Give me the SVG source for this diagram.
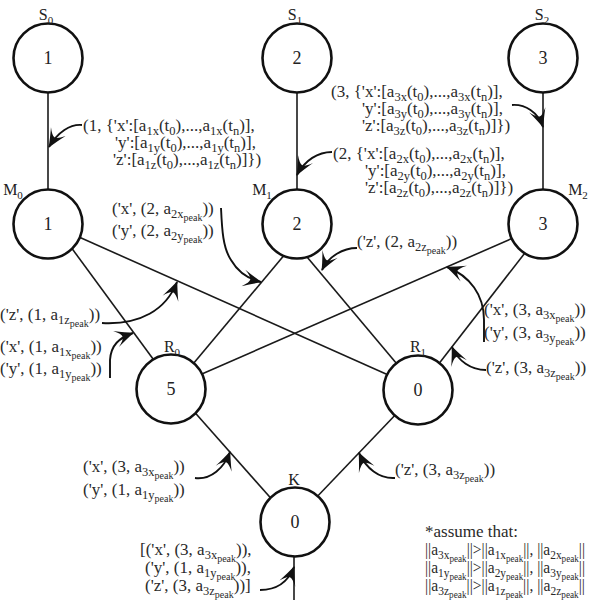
<svg xmlns="http://www.w3.org/2000/svg" width="594" height="600" viewBox="0 0 594 600">
<defs>
<style>
.t{font-family:"Liberation Serif","DejaVu Serif",serif;font-size:17px;fill:#2a2a2a}
.n{font-family:"Liberation Serif","DejaVu Serif",serif;font-size:18px;fill:#222;text-anchor:middle}
.lb{font-family:"Liberation Serif","DejaVu Serif",serif;font-size:16px;fill:#222;text-anchor:middle}
.s{font-size:12.5px;baseline-shift:-4px}
.ss{font-size:10px;baseline-shift:-2.5px}
.ls{font-size:11px;baseline-shift:-4px}
.node{fill:#fff;stroke:#111;stroke-width:2.6}
.edge{stroke:#1a1a1a;stroke-width:1.6;fill:none}
.arr{stroke:#111;stroke-width:1.9;fill:none;marker-end:url(#ah)}
</style>
<marker id="ah" viewBox="-19 -10 21 20" markerWidth="21" markerHeight="20" refX="0" refY="0" orient="auto" markerUnits="userSpaceOnUse">
<path d="M1,0 Q-7,-3 -18,-8.5 Q-11,-3 -11,0 Q-11,3 -18,8.5 Q-7,3 1,0 Z" fill="#111"/>
</marker>
</defs>
<rect width="594" height="600" fill="#fff"/>
<g id="connectors">
<line class="edge" x1="48" y1="58" x2="48" y2="224"/>
<line class="edge" x1="297" y1="58" x2="297" y2="224"/>
<line class="edge" x1="543" y1="58" x2="543" y2="224"/>
<line class="edge" x1="65" y1="239" x2="156" y2="363"/>
<line class="edge" x1="70" y1="233" x2="395" y2="378"/>
<line class="edge" x1="291" y1="247" x2="188" y2="370"/>
<line class="edge" x1="302" y1="251" x2="402" y2="370"/>
<line class="edge" x1="520" y1="235" x2="195" y2="377"/>
<line class="edge" x1="528" y1="249" x2="434" y2="370"/>
<line class="edge" x1="190" y1="407" x2="276" y2="504"/>
<line class="edge" x1="400" y1="410" x2="312" y2="502"/>
<line class="edge" x1="294" y1="540" x2="294" y2="600"/>
<path class="arr" d="M82,125 C70,124 58,132 49,147"/>
<path class="arr" d="M512,105 C525,104 538,112 543,127"/>
<path class="arr" d="M332,152 C318,152 305,160 297,175"/>
<path class="arr" d="M221,208 C222,230 223,248 231,260 C238,272 248,279 261,282"/>
<path class="arr" d="M357,248 C343,248 329,256 322,270"/>
<path class="arr" d="M102,323 C140,325 166,310 177,282"/>
<path class="arr" d="M110,378 L110,360 C111,345 119,338 133,333"/>
<path class="arr" d="M484,342 L484,320 C484,295 470,276 447,267"/>
<path class="arr" d="M486,370 C471,370 458,361 452,347"/>
<path class="arr" d="M195,478 C211,480 224,468 230,452"/>
<path class="arr" d="M395,478 C379,479 366,468 359,453"/>
<path class="arr" d="M260,590 C276,590 288,582 294,567"/>
</g>
<g id="S0"><circle class="node" cx="48" cy="58" r="34.5"/><text class="n" x="48" y="64">1</text><text class="lb" x="46" y="20">S<tspan class="ls">0</tspan></text></g>
<g id="S1"><circle class="node" cx="297" cy="58" r="34.5"/><text class="n" x="297" y="64">2</text><text class="lb" x="295" y="20">S<tspan class="ls">1</tspan></text></g>
<g id="S2"><circle class="node" cx="543" cy="58" r="34.5"/><text class="n" x="543" y="64">3</text><text class="lb" x="542" y="20">S<tspan class="ls">2</tspan></text></g>
<g id="M0"><circle class="node" cx="48" cy="224" r="34.5"/><text class="n" x="48" y="230">1</text><text class="lb" x="13" y="195">M<tspan class="ls">0</tspan></text></g>
<g id="M1"><circle class="node" cx="297" cy="224" r="34.5"/><text class="n" x="297" y="230">2</text><text class="lb" x="262" y="195">M<tspan class="ls">1</tspan></text></g>
<g id="M2"><circle class="node" cx="543" cy="224" r="34.5"/><text class="n" x="543" y="230">3</text><text class="lb" x="578" y="195">M<tspan class="ls">2</tspan></text></g>
<g id="R0"><circle class="node" cx="171" cy="389" r="34.5"/><text class="n" x="171" y="395">5</text><text class="lb" x="172" y="352">R<tspan class="ls">0</tspan></text></g>
<g id="R1"><circle class="node" cx="418" cy="390" r="34.5"/><text class="n" x="418" y="396">0</text><text class="lb" x="418" y="352">R<tspan class="ls">1</tspan></text></g>
<g id="K"><circle class="node" cx="295" cy="522" r="34.5"/><text class="n" x="295" y="528">0</text><text class="lb" x="294" y="485">K</text></g>
<g id="labels">
<text class="t" x="83" y="131">(1, {'x':[a<tspan class="s">1x</tspan>(t<tspan class="s">0</tspan>),...,a<tspan class="s">1x</tspan>(t<tspan class="s">n</tspan>)],</text>
<text class="t" x="115" y="148">'y':[a<tspan class="s">1y</tspan>(t<tspan class="s">0</tspan>),...,a<tspan class="s">1y</tspan>(t<tspan class="s">n</tspan>)],</text>
<text class="t" x="113" y="165">'z':[a<tspan class="s">1z</tspan>(t<tspan class="s">0</tspan>),...,a<tspan class="s">1z</tspan>(t<tspan class="s">n</tspan>)]})</text>
<text class="t" x="331" y="97">(3, {'x':[a<tspan class="s">3x</tspan>(t<tspan class="s">0</tspan>),...,a<tspan class="s">3x</tspan>(t<tspan class="s">n</tspan>)],</text>
<text class="t" x="362" y="114">'y':[a<tspan class="s">3y</tspan>(t<tspan class="s">0</tspan>),...,a<tspan class="s">3y</tspan>(t<tspan class="s">n</tspan>)],</text>
<text class="t" x="362" y="131">'z':[a<tspan class="s">3z</tspan>(t<tspan class="s">0</tspan>),...,a<tspan class="s">3z</tspan>(t<tspan class="s">n</tspan>)]})</text>
<text class="t" x="333" y="159">(2, {'x':[a<tspan class="s">2x</tspan>(t<tspan class="s">0</tspan>),...,a<tspan class="s">2x</tspan>(t<tspan class="s">n</tspan>)],</text>
<text class="t" x="365" y="176">'y':[a<tspan class="s">2y</tspan>(t<tspan class="s">0</tspan>),...,a<tspan class="s">2y</tspan>(t<tspan class="s">n</tspan>)],</text>
<text class="t" x="365" y="193">'z':[a<tspan class="s">2z</tspan>(t<tspan class="s">0</tspan>),...,a<tspan class="s">2z</tspan>(t<tspan class="s">n</tspan>)]})</text>
<text class="t" x="112" y="214">('x', (2, a<tspan class="s">2x<tspan class="ss">peak</tspan></tspan>))</text>
<text class="t" x="112" y="236">('y', (2, a<tspan class="s">2y<tspan class="ss">peak</tspan></tspan>))</text>
<text class="t" x="357" y="247">('z', (2, a<tspan class="s">2z<tspan class="ss">peak</tspan></tspan>))</text>
<text class="t" x="0" y="320">('z', (1, a<tspan class="s">1z<tspan class="ss">peak</tspan></tspan>))</text>
<text class="t" x="0" y="352">('x', (1, a<tspan class="s">1x<tspan class="ss">peak</tspan></tspan>))</text>
<text class="t" x="0" y="374">('y', (1, a<tspan class="s">1y<tspan class="ss">peak</tspan></tspan>))</text>
<text class="t" x="484" y="315">('x', (3, a<tspan class="s">3x<tspan class="ss">peak</tspan></tspan>))</text>
<text class="t" x="484" y="338">('y', (3, a<tspan class="s">3y<tspan class="ss">peak</tspan></tspan>))</text>
<text class="t" x="486" y="373">('z', (3, a<tspan class="s">3z<tspan class="ss">peak</tspan></tspan>))</text>
<text class="t" x="83" y="472">('x', (3, a<tspan class="s">3x<tspan class="ss">peak</tspan></tspan>))</text>
<text class="t" x="83" y="495">('y', (1, a<tspan class="s">1y<tspan class="ss">peak</tspan></tspan>))</text>
<text class="t" x="395" y="475">('z', (3, a<tspan class="s">3z<tspan class="ss">peak</tspan></tspan>))</text>
<text class="t" x="140" y="555">[('x', (3, a<tspan class="s">3x<tspan class="ss">peak</tspan></tspan>)),</text>
<text class="t" x="145" y="573">('y', (1, a<tspan class="s">1y<tspan class="ss">peak</tspan></tspan>)),</text>
<text class="t" x="145" y="591">('z', (3, a<tspan class="s">3z<tspan class="ss">peak</tspan></tspan>))]</text>
<text class="t" x="425" y="537">*assume that:</text>
<text class="t" x="425" y="555" textLength="160" lengthAdjust="spacingAndGlyphs">||a<tspan class="s">3x<tspan class="ss">peak</tspan></tspan>||&gt;||a<tspan class="s">1x<tspan class="ss">peak</tspan></tspan>||, ||a<tspan class="s">2x<tspan class="ss">peak</tspan></tspan>||</text>
<text class="t" x="425" y="573" textLength="160" lengthAdjust="spacingAndGlyphs">||a<tspan class="s">1y<tspan class="ss">peak</tspan></tspan>||&gt;||a<tspan class="s">2y<tspan class="ss">peak</tspan></tspan>||, ||a<tspan class="s">3y<tspan class="ss">peak</tspan></tspan>||</text>
<text class="t" x="425" y="591" textLength="160" lengthAdjust="spacingAndGlyphs">||a<tspan class="s">3z<tspan class="ss">peak</tspan></tspan>||&gt;||a<tspan class="s">1z<tspan class="ss">peak</tspan></tspan>||, ||a<tspan class="s">2z<tspan class="ss">peak</tspan></tspan>||</text>
</g>
</svg>
